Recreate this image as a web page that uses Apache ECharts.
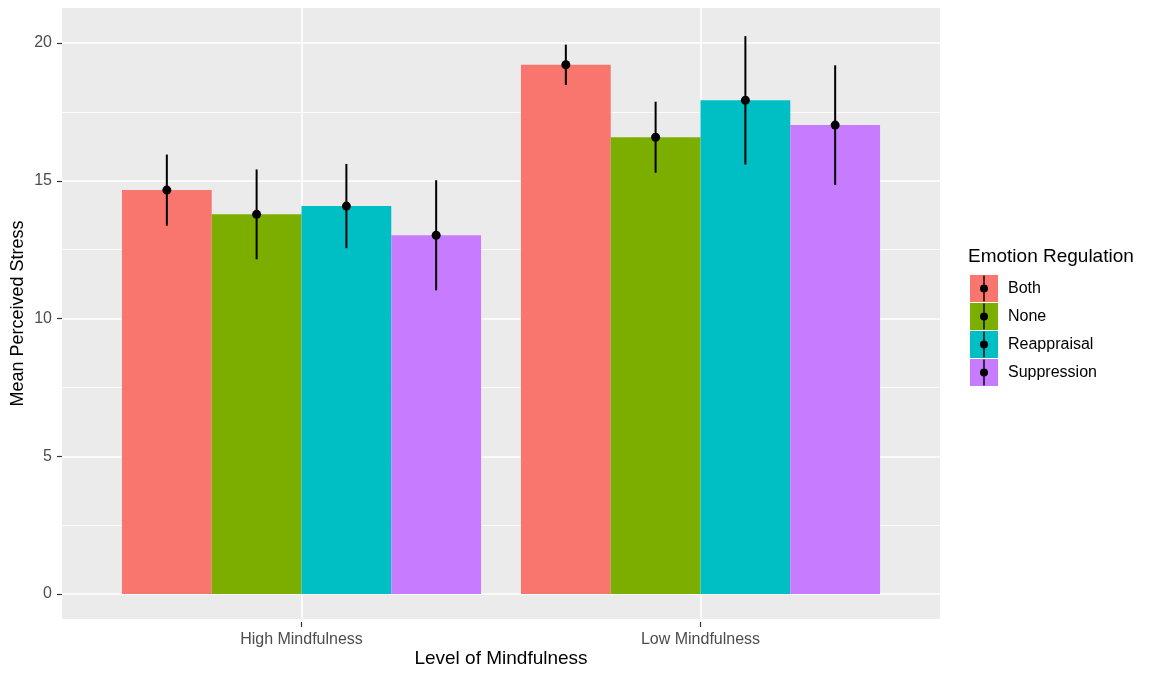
<!DOCTYPE html>
<html>
<head>
<meta charset="utf-8">
<script src="https://cdn.jsdelivr.net/npm/echarts@6/dist/echarts.min.js"></script>
<style>
  html, body { margin: 0; padding: 0; background: #fff; }
  #chart { width: 1152px; height: 673px; }
</style>
</head>
<body>
<div id="chart"></div>
<script>
// Levels of mindfulness (x categories) and emotion-regulation groups (fill)
const mindfulness = ['High Mindfulness', 'Low Mindfulness'];
const regulation = ['Both', 'None', 'Reappraisal', 'Suppression'];
const fillColors = ['#F8766D', '#7CAE00', '#00BFC4', '#C77CFF'];

// Mean perceived stress per group, ordered as [High, Low]
const meanBoth = [14.66, 19.21];
const meanNone = [13.78, 16.58];
const meanReappraisal = [14.08, 17.92];
const meanSuppression = [13.02, 17.02];

// Error-bar half widths per group, ordered as [High, Low]
const errBoth = [1.29, 0.73];
const errNone = [1.63, 1.29];
const errReappraisal = [1.53, 2.33];
const errSuppression = [2.00, 2.17];

// Y axis ticks
const yTicks = [0, 5, 10, 15, 20];

const means = [meanBoth, meanNone, meanReappraisal, meanSuppression];
const errs = [errBoth, errNone, errReappraisal, errSuppression];

const FONT = '"Liberation Sans", Arial, sans-serif';
const BAR_SHARE = 0.225; // each bar takes 22.5% of the category band (0.9 / 4)

const barSeries = regulation.map((name, k) => ({
  name: name,
  type: 'bar',
  xAxisIndex: 2,
  yAxisIndex: 2,
  barWidth: (BAR_SHARE * 100) + '%',
  barGap: '0%',
  itemStyle: { color: fillColors[k] },
  data: means[k],
  z: 2
}));

const errorSeries = regulation.map((name, k) => ({
  type: 'custom',
  xAxisIndex: 2,
  yAxisIndex: 2,
  z: 5,
  silent: true,
  data: mindfulness.map((m, i) => [i, means[k][i], errs[k][i]]),
  renderItem: function (params, api) {
    const idx = api.value(0);
    const mean = api.value(1);
    const e = api.value(2);
    const band = api.size([1, 0])[0];
    const off = (k - 1.5) * band * BAR_SHARE;
    const pMean = api.coord([idx, mean]);
    const pHi = api.coord([idx, mean + e]);
    const pLo = api.coord([idx, mean - e]);
    const x = pMean[0] + off;
    return {
      type: 'group',
      children: [
        {
          type: 'line',
          shape: { x1: x, y1: pHi[1], x2: x, y2: pLo[1] },
          style: { stroke: '#000', lineWidth: 2 }
        },
        {
          type: 'circle',
          shape: { cx: x, cy: pMean[1], r: 4.5 },
          style: { fill: '#000' }
        }
      ]
    };
  }
}));

const hidden = { show: false };
const tickStyle = { show: true, length: 5, lineStyle: { color: '#333', width: 1.2 } };

const option = {
  animation: false,
  textStyle: { fontFamily: FONT },
  title: {
    text: 'Emotion Regulation',
    left: 968,
    top: 247,
    padding: 0,
    textStyle: { fontFamily: FONT, fontSize: 19, fontWeight: 'normal', color: '#000' }
  },
  legend: [
    {
      data: regulation,
      orient: 'vertical',
      left: 970,
      top: 275,
      padding: 0,
      itemWidth: 28,
      itemHeight: 27,
      itemGap: 1,
      icon: 'rect',
      itemStyle: { borderWidth: 0 },
      textStyle: { fontFamily: FONT, fontSize: 16, color: '#000', padding: [0, 0, 0, 5] },
      selectedMode: false
    },
    {
      data: regulation,
      orient: 'vertical',
      left: 980,
      top: 275.5,
      padding: 0,
      itemWidth: 8,
      itemHeight: 26,
      itemGap: 2,
      icon: 'path://M13.3,0 L14.7,0 L14.7,26 L13.3,26 Z M18,13 A4,4 0 1,1 10,13 A4,4 0 1,1 18,13 Z',
      itemStyle: { color: '#000', borderWidth: 0 },
      textStyle: { fontSize: 16, color: 'rgba(0,0,0,0)' },
      selectedMode: false
    }
  ],
  grid: [
    // panel background
    { left: 62, top: 8, width: 878, height: 614, show: true, backgroundColor: '#EBEBEB', borderWidth: 0 },
    // horizontal grid lines and y ticks
    { left: 62, top: 43, width: 878, height: 551 },
    // bars and error bars
    { left: 102, top: 43, width: 798, height: 551 },
    // vertical grid lines and x ticks
    { left: 301.5, top: 8, width: 399, height: 614 }
  ],
  xAxis: [
    {
      gridIndex: 0, type: 'value', min: 0, max: 1,
      axisLine: hidden, axisTick: hidden, axisLabel: hidden, splitLine: hidden,
      name: 'Level of Mindfulness', nameLocation: 'middle', nameGap: 30,
      nameTextStyle: { fontFamily: FONT, fontSize: 19, color: '#000' }
    },
    { gridIndex: 1, type: 'value', min: 0, max: 1, show: false },
    { gridIndex: 2, type: 'category', data: mindfulness, show: false },
    {
      gridIndex: 3, type: 'category', data: mindfulness, boundaryGap: false,
      axisLine: hidden,
      axisTick: tickStyle,
      axisLabel: { fontFamily: FONT, fontSize: 16, color: '#4D4D4D', margin: 10 },
      splitLine: { show: true, lineStyle: { color: '#fff', width: 1.6 } }
    }
  ],
  yAxis: [
    {
      gridIndex: 0, type: 'value', min: 0, max: 1,
      axisLine: hidden, axisTick: hidden, axisLabel: hidden, splitLine: hidden,
      name: 'Mean Perceived Stress', nameLocation: 'middle', nameGap: 35, nameRotate: 90,
      nameTextStyle: { fontFamily: FONT, fontSize: 18, color: '#000' }
    },
    {
      gridIndex: 1, type: 'value', min: yTicks[0], max: yTicks[yTicks.length - 1], interval: 5,
      axisLine: hidden,
      axisTick: tickStyle,
      axisLabel: { fontFamily: FONT, fontSize: 16, color: '#4D4D4D', margin: 10 },
      splitLine: { show: true, lineStyle: { color: '#fff', width: 1.6 } },
      minorTick: { show: false, splitNumber: 2 },
      minorSplitLine: { show: true, lineStyle: { color: '#fff', width: 0.8 } }
    },
    { gridIndex: 2, type: 'value', min: yTicks[0], max: yTicks[yTicks.length - 1], show: false },
    { gridIndex: 3, type: 'value', min: 0, max: 1, show: false }
  ],
  series: barSeries.concat(errorSeries)
};

const chart = echarts.init(document.getElementById('chart'), null, { renderer: 'canvas' });
chart.setOption(option);
</script>
</body>
</html>
